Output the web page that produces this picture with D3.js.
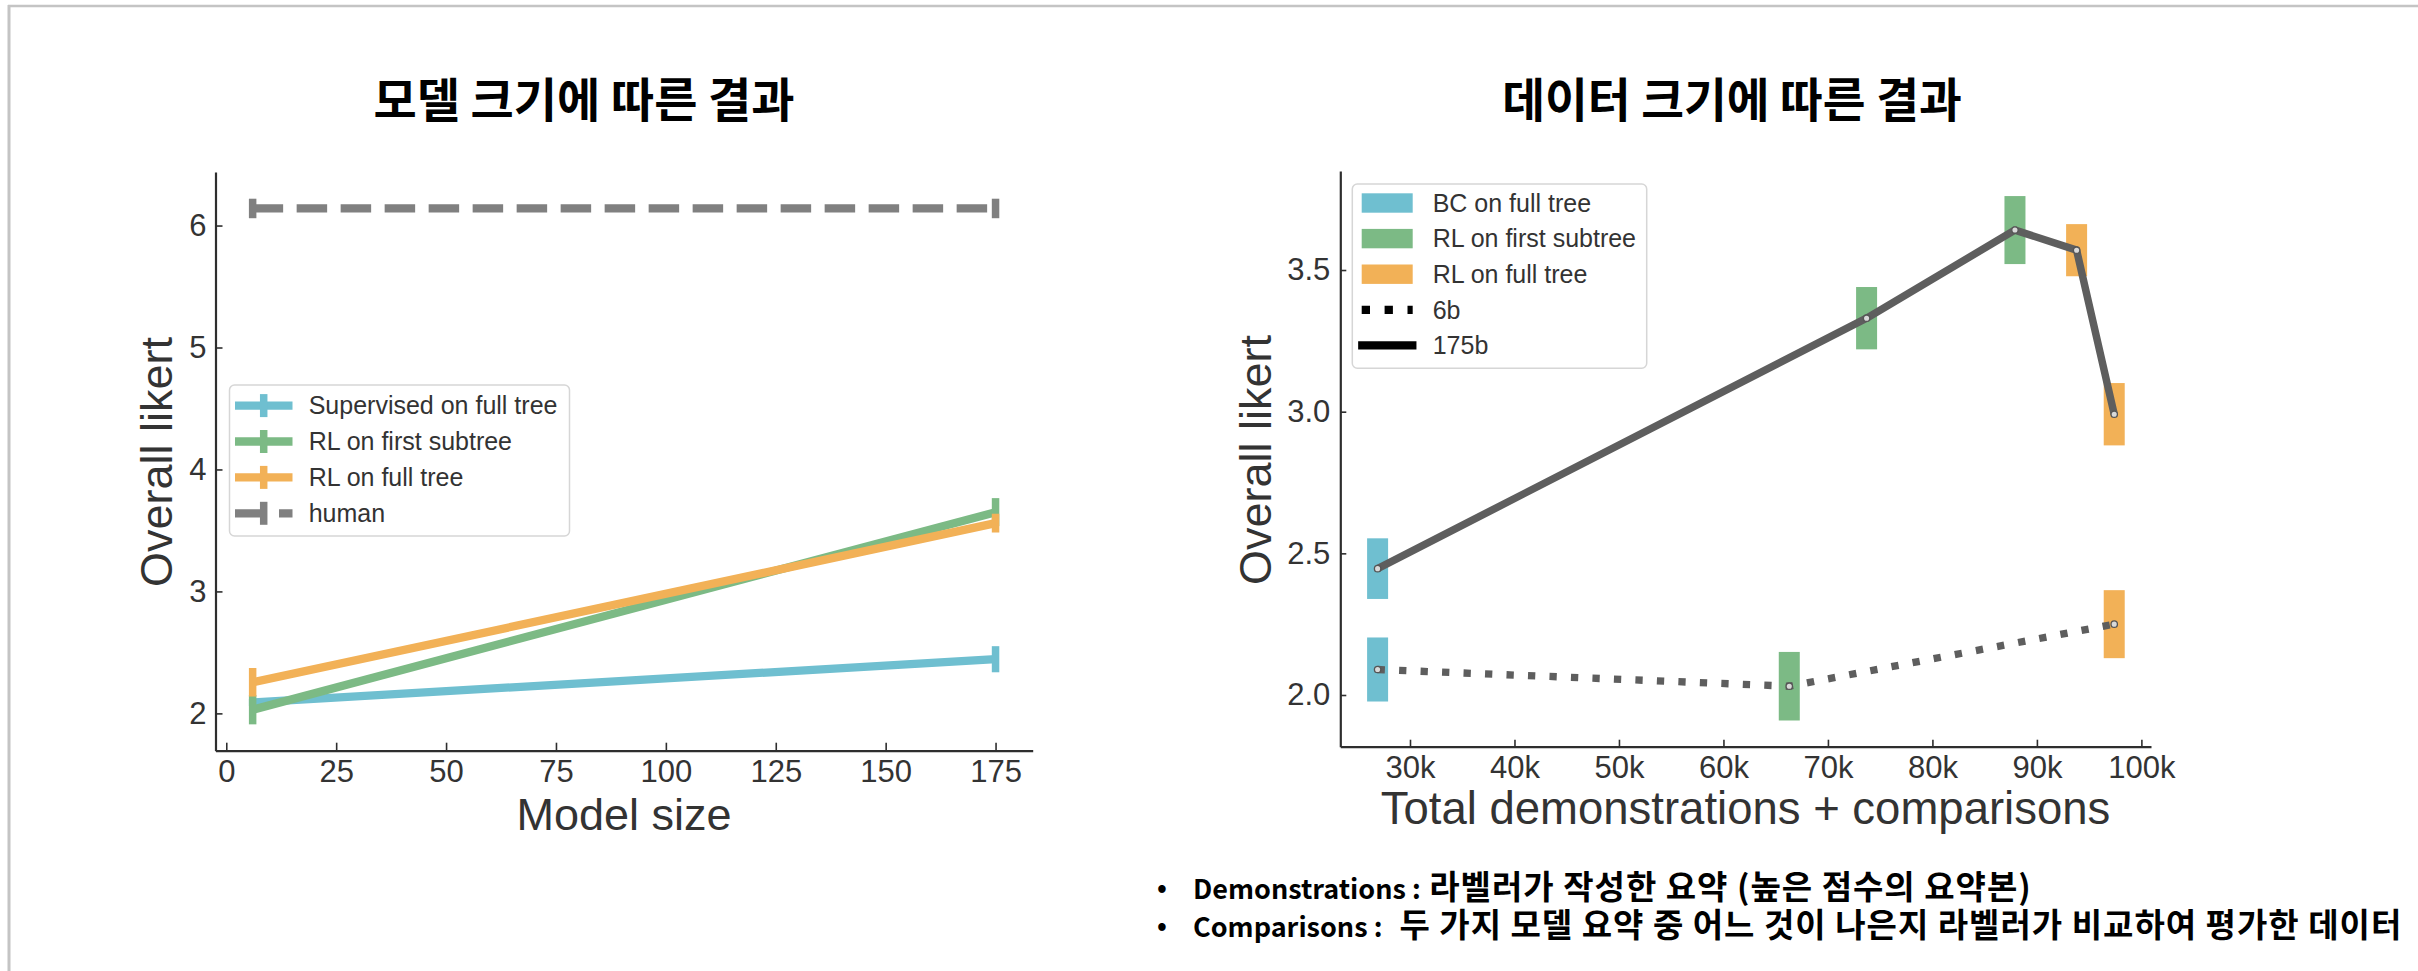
<!DOCTYPE html>
<html>
<head>
<meta charset="utf-8">
<script src="https://cdn.jsdelivr.net/npm/d3@7"></script>
<style>
  html, body { margin: 0; padding: 0; background: #fff; }
  svg { display: block; }
  .lat { font-family: "Liberation Sans", Arial, Helvetica, sans-serif; fill: #333; }
  .kr { font-family: "Noto Sans CJK KR", sans-serif; font-weight: 700; fill: #000; white-space: pre; }
</style>
</head>
<body>
<script>
// ---------- Left panel: likert score vs. model size ----------
const modelSizes = [6, 175];
const supervisedFull = [2.09, 2.444];
const supervisedFullErr = [0.03, 0.107];
const rlFirstSubtree = [2.03, 3.65];
const rlFirstSubtreeErr = [0.12, 0.115];
const rlFullTree = [2.255, 3.56];
const rlFullTreeErr = [0.117, 0.077];
const humanScore = [6.14, 6.14];
const humanErr = [0.08, 0.08];
const leftXTicks = [0, 25, 50, 75, 100, 125, 150, 175];
const leftYTicks = [2, 3, 4, 5, 6];
const leftLegend = ["Supervised on full tree", "RL on first subtree", "RL on full tree", "human"];

// ---------- Right panel: likert score vs. amount of data ----------
const dataSize175 = [26900, 73700, 87900, 93800, 97400];
const likert175 = [2.446, 3.33, 3.641, 3.57, 2.991];
const err175 = [0.107, 0.11, 0.12, 0.092, 0.11];
const method175 = ["BC", "RLsub", "RLsub", "RLfull", "RLfull"];
const dataSize6 = [26900, 66300, 97400];
const likert6 = [2.09, 2.031, 2.25];
const err6 = [0.113, 0.121, 0.12];
const method6 = ["BC", "RLsub", "RLfull"];
const rightXTicks = [30000, 40000, 50000, 60000, 70000, 80000, 90000, 100000];
const rightYTicks = [2.0, 2.5, 3.0, 3.5];
const rightLegend = ["BC on full tree", "RL on first subtree", "RL on full tree", "6b", "175b"];

const COLORS = { blue: "#6fbfd0", green: "#7cba85", orange: "#f2b157", gray: "#808080", dark: "#5e5e5e" };
const methodColor = { BC: COLORS.blue, RLsub: COLORS.green, RLfull: COLORS.orange };

const W = 2418, H = 971;
const svg = d3.select("body").append("svg").attr("width", W).attr("height", H);
svg.append("rect").attr("width", W).attr("height", H).attr("fill", "#fff");

// slide frame
svg.append("line").attr("x1", 8).attr("x2", W).attr("y1", 6).attr("y2", 6)
  .attr("stroke", "#c4c4c4").attr("stroke-width", 2.5);
svg.append("line").attr("x1", 9).attr("x2", 9).attr("y1", 5).attr("y2", H)
  .attr("stroke", "#c4c4c4").attr("stroke-width", 3);

// titles
svg.append("text").attr("class", "kr").attr("x", 584).attr("y", 117)
  .attr("text-anchor", "middle").attr("font-size", 47).text("모델 크기에 따른 결과");
svg.append("text").attr("class", "kr").attr("x", 1732).attr("y", 117)
  .attr("text-anchor", "middle").attr("font-size", 46.5).text("데이터 크기에 따른 결과");

function styleAxis(g) {
  g.select(".domain").attr("stroke", "#2e2e2e").attr("stroke-width", 2.2);
  g.selectAll(".tick line").attr("stroke", "#2e2e2e").attr("stroke-width", 1.6);
  g.selectAll(".tick text").attr("class", "lat").attr("font-size", 31).attr("fill", "#333");
}

// ================= LEFT PANEL =================
{
  const x = d3.scaleLinear().domain([-2.45, 183.45]).range([215.5, 1032.7]);
  const y = d3.scaleLinear().domain([1.694, 6.439]).range([750.7, 172]);
  const g = svg.append("g");

  const gx = g.append("g").attr("transform", "translate(0,750.7)")
    .call(d3.axisBottom(x).tickValues(leftXTicks).tickSizeInner(-8).tickSizeOuter(0).tickPadding(9)
      .tickFormat(d3.format("d")));
  styleAxis(gx);
  const gy = g.append("g").attr("transform", "translate(215.5,0)")
    .call(d3.axisLeft(y).tickValues(leftYTicks).tickSizeInner(-7).tickSizeOuter(0).tickPadding(9)
      .tickFormat(d3.format("d")));
  styleAxis(gy);

  const series = [
    { vals: supervisedFull, err: supervisedFullErr, color: COLORS.blue, dash: null },
    { vals: rlFirstSubtree, err: rlFirstSubtreeErr, color: COLORS.green, dash: null },
    { vals: rlFullTree, err: rlFullTreeErr, color: COLORS.orange, dash: null },
    { vals: humanScore, err: humanErr, color: COLORS.gray, dash: "30.5,13.5" }
  ];
  const line = d3.line().x(d => x(d[0])).y(d => y(d[1]));
  series.forEach(s => {
    const pts = modelSizes.map((m, i) => [m, s.vals[i]]);
    g.append("path").datum(pts).attr("d", line).attr("fill", "none")
      .attr("stroke", s.color).attr("stroke-width", 8.3)
      .attr("stroke-dasharray", s.dash);
    g.selectAll(null).data(modelSizes.map((m, i) => ({ m, v: s.vals[i], e: s.err[i] }))).enter()
      .append("line")
      .attr("x1", d => x(d.m)).attr("x2", d => x(d.m))
      .attr("y1", d => y(d.v - d.e)).attr("y2", d => y(d.v + d.e))
      .attr("stroke", s.color).attr("stroke-width", 7.5);
  });

  // legend
  const lg = g.append("g");
  lg.append("rect").attr("x", 229.5).attr("y", 385).attr("width", 340).attr("height", 151)
    .attr("rx", 5).attr("fill", "#fff").attr("fill-opacity", 0.85)
    .attr("stroke", "#d6d6d6").attr("stroke-width", 1.5);
  const rowY = i => 405.6 + i * 35.9;
  series.forEach((s, i) => {
    lg.append("line").attr("x1", 235).attr("x2", 292.5).attr("y1", rowY(i)).attr("y2", rowY(i))
      .attr("stroke", s.color).attr("stroke-width", 8.3).attr("stroke-dasharray", s.dash);
    lg.append("line").attr("x1", 263.7).attr("x2", 263.7).attr("y1", rowY(i) - 11.5).attr("y2", rowY(i) + 11.5)
      .attr("stroke", s.color).attr("stroke-width", 7.5);
    lg.append("text").attr("class", "lat").attr("x", 308.7).attr("y", rowY(i)).attr("dy", "0.35em")
      .attr("font-size", 25).text(leftLegend[i]);
  });

  g.append("text").attr("class", "lat").attr("x", 624).attr("y", 829.5)
    .attr("text-anchor", "middle").attr("font-size", 45).text("Model size");
  g.append("text").attr("class", "lat").attr("transform", "translate(171.5,462) rotate(-90)")
    .attr("text-anchor", "middle").attr("font-size", 45).text("Overall likert");
}

// ================= RIGHT PANEL =================
{
  const x = d3.scaleLinear().domain([23330, 100920]).range([1340.3, 2151]);
  const y = d3.scaleLinear().domain([1.8175, 3.8495]).range([746.7, 171]);
  const g = svg.append("g");

  const gx = g.append("g").attr("transform", "translate(0,746.7)")
    .call(d3.axisBottom(x).tickValues(rightXTicks).tickSizeInner(-7).tickSizeOuter(0).tickPadding(9)
      .tickFormat(d => d / 1000 + "k"));
  styleAxis(gx);
  const gy = g.append("g").attr("transform", "translate(1340.3,0)")
    .call(d3.axisLeft(y).tickValues(rightYTicks).tickSizeInner(-6).tickSizeOuter(0).tickPadding(10)
      .tickFormat(d3.format(".1f")));
  styleAxis(gy);

  const barW = 21;
  const bars = [
    ...dataSize175.map((d, i) => ({ d, v: likert175[i], e: err175[i], m: method175[i] })),
    ...dataSize6.map((d, i) => ({ d, v: likert6[i], e: err6[i], m: method6[i] }))
  ];
  g.selectAll(null).data(bars).enter().append("rect")
    .attr("x", b => x(b.d) - barW / 2).attr("width", barW)
    .attr("y", b => y(b.v + b.e)).attr("height", b => y(b.v - b.e) - y(b.v + b.e))
    .attr("fill", b => methodColor[b.m]);

  const line = d3.line().x(d => x(d[0])).y(d => y(d[1]));
  const pts6 = dataSize6.map((d, i) => [d, likert6[i]]);
  const pts175 = dataSize175.map((d, i) => [d, likert175[i]]);
  g.append("path").datum(pts6).attr("d", line).attr("fill", "none")
    .attr("stroke", COLORS.dark).attr("stroke-width", 7.3).attr("stroke-dasharray", "7.3,14.2");
  g.append("path").datum(pts175).attr("d", line).attr("fill", "none")
    .attr("stroke", COLORS.dark).attr("stroke-width", 7.5).attr("stroke-linejoin", "round");
  g.selectAll(null).data(pts6.concat(pts175)).enter().append("circle")
    .attr("cx", d => x(d[0])).attr("cy", d => y(d[1])).attr("r", 3.2)
    .attr("fill", "#d9d9d9").attr("stroke", "#555").attr("stroke-width", 1.3);

  // legend
  const lg = g.append("g");
  lg.append("rect").attr("x", 1352.3).attr("y", 184).attr("width", 294.4).attr("height", 184.3)
    .attr("rx", 5).attr("fill", "#fff").attr("fill-opacity", 0.85)
    .attr("stroke", "#d6d6d6").attr("stroke-width", 1.5);
  const rowY = i => 203 + i * 35.6;
  [COLORS.blue, COLORS.green, COLORS.orange].forEach((c, i) => {
    lg.append("rect").attr("x", 1361.7).attr("y", rowY(i) - 9.7).attr("width", 51).attr("height", 19.4).attr("fill", c);
  });
  lg.append("line").attr("x1", 1361.7).attr("x2", 1412.7).attr("y1", rowY(3)).attr("y2", rowY(3))
    .attr("stroke", "#000").attr("stroke-width", 8.3).attr("stroke-dasharray", "8.3,14.6");
  lg.append("line").attr("x1", 1362.3).attr("x2", 1412.3).attr("y1", rowY(4)).attr("y2", rowY(4))
    .attr("stroke", "#000").attr("stroke-width", 8.3).attr("stroke-linecap", "square");
  rightLegend.forEach((t, i) => {
    lg.append("text").attr("class", "lat").attr("x", 1432.7).attr("y", rowY(i)).attr("dy", "0.35em")
      .attr("font-size", 25).text(t);
  });

  g.append("text").attr("class", "lat").attr("x", 1745.5).attr("y", 823.6)
    .attr("text-anchor", "middle").attr("font-size", 45.5).text("Total demonstrations + comparisons");
  g.append("text").attr("class", "lat").attr("transform", "translate(1271,460) rotate(-90)")
    .attr("text-anchor", "middle").attr("font-size", 45).text("Overall likert");
}

// ---------- footnotes ----------
const notes = [
  { term: "Demonstrations :", desc: " 라벨러가 작성한 요약 (높은 점수의 요약본)" },
  { term: "Comparisons :", desc: "  두 가지 모델 요약 중 어느 것이 나은지 라벨러가 비교하여 평가한 데이터" }
];
notes.forEach((n, i) => {
  const yy = 899 + i * 38;
  svg.append("text").attr("class", "kr").attr("x", 1162).attr("y", yy - 2)
    .attr("text-anchor", "middle").attr("font-size", 26).text("•");
  const t = svg.append("text").attr("class", "kr").attr("x", 1193).attr("y", yy);
  t.append("tspan").attr("font-size", 27).text(n.term);
  t.append("tspan").attr("font-size", 33).attr("letter-spacing", 1.0).text(n.desc);
});
</script>
</body>
</html>
